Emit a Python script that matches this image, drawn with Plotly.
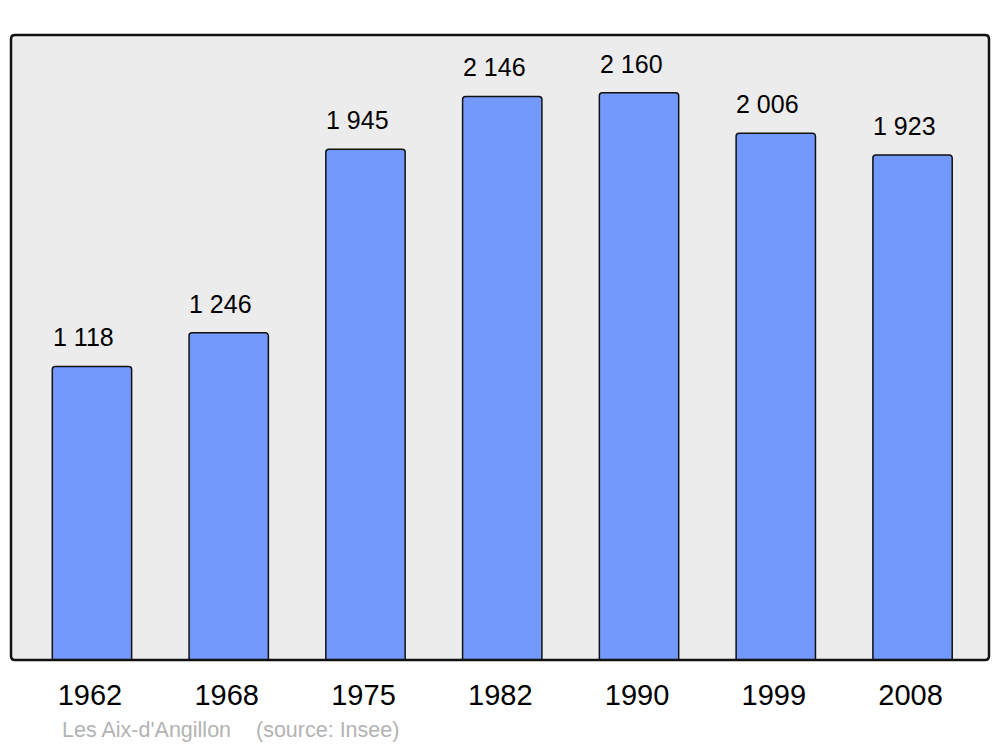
import plotly.graph_objects as go

years = ["1962", "1968", "1975", "1982", "1990", "1999", "2008"]
population = [1118, 1246, 1945, 2146, 2160, 2006, 1923]
value_labels = ["1 118", "1 246", "1 945", "2 146", "2 160", "2 006", "1 923"]
caption_place = "Les Aix-d'Angillon"
caption_source = "(source: Insee)"

FONT = "Liberation Sans, Arial, sans-serif"
W, H = 1000, 747
L, R, T, B = 11, 11, 35, 87

fig = go.Figure()
fig.add_trace(go.Bar(
    x=years,
    y=population,
    width=0.58,
    marker=dict(color="#7399ff", line=dict(color="#111111", width=1.5)),
    hoverinfo="skip",
))

for i, (v, lab) in enumerate(zip(population, value_labels)):
    fig.add_annotation(
        x=i, y=v, text=lab, showarrow=False,
        xanchor="center", yanchor="bottom", yshift=13, xshift=-8,
        font=dict(family=FONT, size=25, color="#000000"),
    )

pw, ph = W - L - R, H - T - B
fig.add_annotation(
    x=(60 - L) / pw, y=(660 - 730) / ph,
    xref="paper", yref="paper", text=caption_place, showarrow=False,
    xanchor="left", yanchor="middle",
    font=dict(family=FONT, size=21.5, color="#b3b3b3"),
)
fig.add_annotation(
    x=(254 - L) / pw, y=(660 - 730) / ph,
    xref="paper", yref="paper", text=caption_source, showarrow=False,
    xanchor="left", yanchor="middle",
    font=dict(family=FONT, size=21.5, color="#b3b3b3"),
)

# rounded frame around plot area
rx, ry = 4 / pw, 4 / ph
path = (f"M {rx},0 L {1-rx},0 Q 1,0 1,{ry} L 1,{1-ry} Q 1,1 {1-rx},1 "
        f"L {rx},1 Q 0,1 0,{1-ry} L 0,{ry} Q 0,0 {rx},0 Z")
fig.add_shape(type="path", path=path, xref="paper", yref="paper",
              line=dict(color="#111111", width=2.5), layer="above")

fig.update_layout(
    width=W, height=H,
    margin=dict(l=L, r=R, t=T, b=B, pad=0),
    paper_bgcolor="#ffffff",
    plot_bgcolor="#ececec",
    barcornerradius=3,
    showlegend=False,
    xaxis=dict(
        type="category", range=[-0.592, 6.559],
        showgrid=False, zeroline=False, showline=False, ticks="",
        tickfont=dict(family=FONT, size=29, color="#000000"),
        ticklabelstandoff=15, ticklabelshift=-2,
    ),
    yaxis=dict(
        range=[0, 2380], showgrid=False, zeroline=False, showline=False,
        showticklabels=False, ticks="",
    ),
)

fig.write_html(
    "out.html",
    config={"displayModeBar": False},
    post_script="document.body.style.margin='0';document.body.style.overflow='hidden';",
)
